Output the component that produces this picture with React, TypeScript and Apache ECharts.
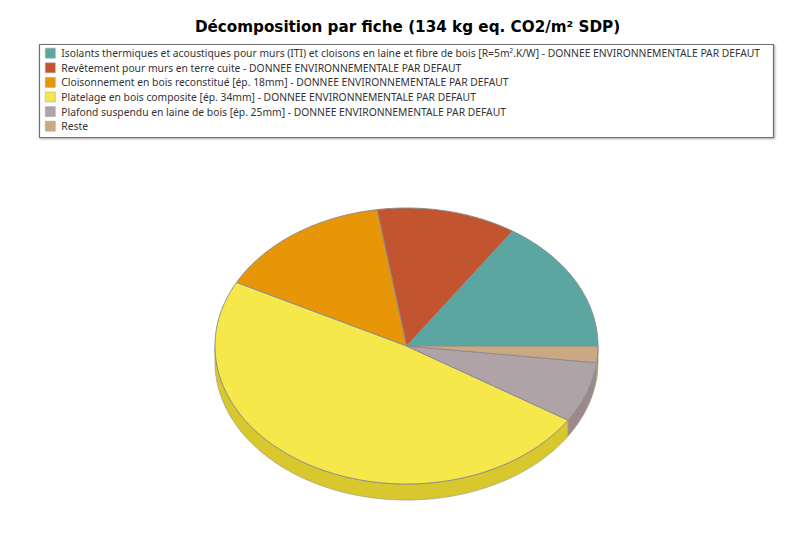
import React, { useEffect, useRef } from "react";
import * as echarts from "echarts";

const titleText = "Décomposition par fiche (134 kg eq. CO2/m² SDP)";
const categories = [
  "Isolants thermiques et acoustiques pour murs (ITI) et cloisons en laine et fibre de bois [R=5m².K/W] - DONNEE ENVIRONNEMENTALE PAR DEFAUT",
  "Revêtement pour murs en terre cuite - DONNEE ENVIRONNEMENTALE PAR DEFAUT",
  "Cloisonnement en bois reconstitué [ép. 18mm] - DONNEE ENVIRONNEMENTALE PAR DEFAUT",
  "Platelage en bois composite [ép. 34mm] - DONNEE ENVIRONNEMENTALE PAR DEFAUT",
  "Plafond suspendu en laine de bois [ép. 25mm] - DONNEE ENVIRONNEMENTALE PAR DEFAUT",
  "Reste",
];
const values = [21.0, 15.8, 20.0, 65.1, 9.5, 2.6];
const topColors = ["#5BA6A0", "#C2552F", "#E79608", "#F6E84A", "#B0A3A8", "#CBA883"];
const sideColors = ["#4A8A85", "#A04528", "#B97806", "#D8C82E", "#9A8A90", "#A88C6C"];

const CX = 406.5;
const CY = 346;
const RX = 191.5;
const RY = 138;
const DEPTH = 16;
const EDGE = "#8C8C8C";
const SIDE_EDGE = "#A8A27A";

const total = values.reduce((a, b) => a + b, 0);

function arc(a0: number, a1: number, dy: number): number[][] {
  const n = Math.max(2, Math.ceil(Math.abs(a1 - a0) * 2));
  const pts: number[][] = [];
  for (let i = 0; i <= n; i++) {
    const t = ((a0 + ((a1 - a0) * i) / n) * Math.PI) / 180;
    pts.push([CX + RX * Math.cos(t), CY - RY * Math.sin(t) + dy]);
  }
  return pts;
}

function makeSeries(name: string, index: number) {
  return {
    type: "custom",
    name,
    coordinateSystem: "none",
    silent: true,
    itemStyle: { color: topColors[index] },
    data: [[values[index]]],
    renderItem: (_params: unknown, api: any) => {
      const before = values.slice(0, index).reduce((a, b) => a + b, 0);
      const a0 = (before / total) * 360;
      const a1 = a0 + (api.value(0) / total) * 360;
      const children: any[] = [];
      const s0 = Math.max(a0, 180);
      if (a1 > 180) {
        const upper = arc(s0, a1, 0);
        const lower = arc(a1, s0, DEPTH);
        children.push({
          type: "polygon",
          shape: { points: upper.concat(lower) },
          style: { fill: sideColors[index], stroke: SIDE_EDGE, lineWidth: 0.8 },
        });
      }
      children.push({
        type: "polygon",
        shape: { points: [[CX, CY] as number[]].concat(arc(a0, a1, 0)) },
        style: { fill: topColors[index], stroke: EDGE, lineWidth: 1 },
      });
      return { type: "group", children };
    },
  };
}

export default function App() {
  const ref = useRef<HTMLDivElement>(null);
  useEffect(() => {
    if (!ref.current) return;
    const chart = echarts.init(ref.current, undefined, { renderer: "svg" });
    chart.setOption({
      animation: false,
      backgroundColor: "#ffffff",
      title: {
        text: titleText,
        left: 402.5,
        top: 14,
        textAlign: "center",
        textStyle: { fontFamily: "DejaVu Sans", fontWeight: "bold", fontSize: 15.2, color: "#000000" },
      },
      graphic: [
        {
          type: "rect",
          z: -1,
          shape: { x: 39.5, y: 44.5, width: 734, height: 93 },
          style: { fill: "#ffffff", stroke: "#707070", lineWidth: 1.2, shadowColor: "rgba(0,0,0,0.35)", shadowBlur: 2, shadowOffsetX: 1, shadowOffsetY: 1 },
        },
      ],
      legend: {
        orient: "vertical",
        left: 45,
        top: 47.5,
        padding: 0,
        itemWidth: 10,
        itemHeight: 10,
        itemGap: 3.2,
        icon: "rect",
        selectedMode: false,
        data: categories,
        itemStyle: { borderColor: "#aaaaaa", borderWidth: 0.6 },
        textStyle: { fontFamily: "Noto Sans", fontSize: 10.3, color: "#333333", lineHeight: 11.4, padding: [0, 0, 0, 1] },
      },
      series: categories.map(makeSeries),
    });
    return () => chart.dispose();
  }, []);
  return <div ref={ref} style={{ position: "absolute", left: 0, top: 0, width: 800, height: 547 }} />;
}
